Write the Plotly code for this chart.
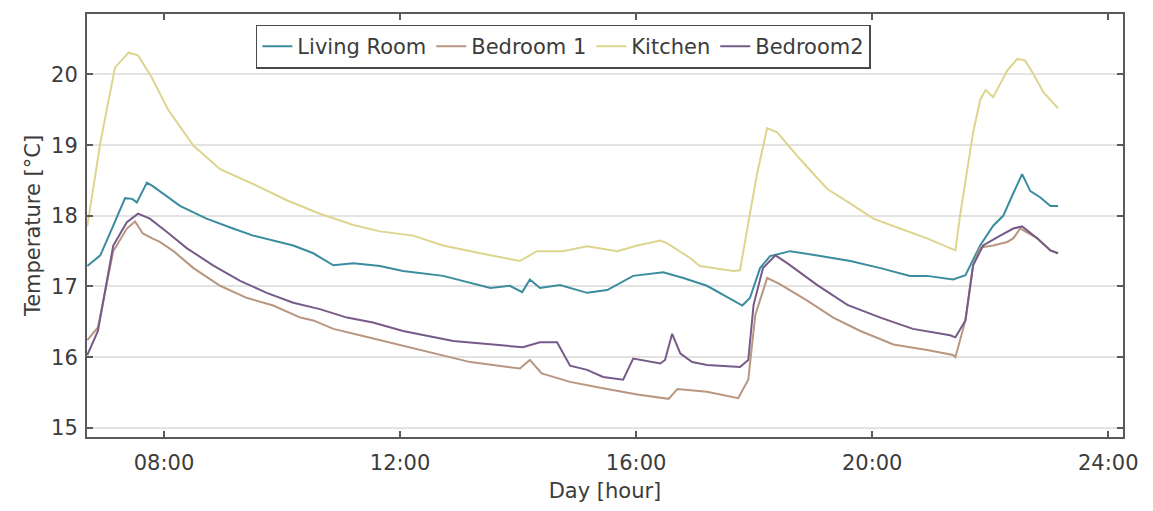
import plotly.graph_objects as go

# Hourly room temperature log (hours since midnight, degrees C)
living_hours = [6.70, 6.92, 7.14, 7.34, 7.46, 7.54, 7.71, 7.81, 8.27, 8.72, 9.17, 9.51, 10.19, 10.53,
                10.87, 11.21, 11.66, 12.05, 12.73, 13.53, 13.86, 14.07, 14.20, 14.37, 14.71, 15.17,
                15.51, 15.95, 16.46, 16.80, 17.20, 17.65, 17.80, 17.93, 18.10, 18.27, 18.61, 19.07,
                19.63, 20.14, 20.64, 20.93, 21.37, 21.58, 21.83, 22.05, 22.22, 22.37, 22.54, 22.68,
                22.85, 23.02, 23.15]
living_temp = [17.29, 17.44, 17.86, 18.25, 18.24, 18.19, 18.47, 18.42, 18.14, 17.96, 17.82, 17.72,
               17.58, 17.47, 17.30, 17.33, 17.29, 17.22, 17.15, 16.98, 17.01, 16.92, 17.10, 16.98,
               17.02, 16.91, 16.95, 17.15, 17.20, 17.12, 17.01, 16.80, 16.73, 16.84, 17.26, 17.43,
               17.50, 17.44, 17.36, 17.26, 17.15, 17.15, 17.10, 17.16, 17.58, 17.86, 18.00, 18.28,
               18.59, 18.35, 18.26, 18.14, 18.14]

bed1_hours = [6.70, 6.88, 7.14, 7.37, 7.51, 7.64, 7.80, 7.93, 8.16, 8.50, 8.95, 9.40, 9.85, 10.31,
              10.53, 10.87, 11.32, 11.66, 12.34, 13.19, 14.03, 14.20, 14.40, 14.88, 15.44, 16.02,
              16.55, 16.70, 17.20, 17.73, 17.90, 18.02, 18.22, 18.42, 18.90, 19.34, 19.80, 20.36,
              20.93, 21.37, 21.41, 21.58, 21.71, 21.83, 22.05, 22.29, 22.39, 22.51, 22.80, 23.02,
              23.15]
bed1_temp = [16.24, 16.42, 17.50, 17.82, 17.92, 17.75, 17.68, 17.63, 17.50, 17.26, 17.01, 16.84,
             16.73, 16.56, 16.52, 16.40, 16.31, 16.24, 16.10, 15.93, 15.84, 15.96, 15.77, 15.65,
             15.56, 15.47, 15.41, 15.55, 15.51, 15.42, 15.68, 16.60, 17.12, 17.04, 16.80, 16.56,
             16.37, 16.18, 16.10, 16.03, 16.00, 16.52, 17.30, 17.55, 17.58, 17.63, 17.68, 17.82,
             17.68, 17.51, 17.47]

kitchen_hours = [6.70, 6.92, 7.17, 7.40, 7.56, 7.79, 8.07, 8.50, 8.95, 9.51, 10.08, 10.64, 11.21,
                 11.66, 12.22, 12.73, 13.36, 14.03, 14.32, 14.76, 15.17, 15.68, 16.02, 16.41, 16.53,
                 16.92, 17.08, 17.65, 17.76, 17.93, 18.05, 18.22, 18.39, 18.78, 19.24, 19.58, 20.02,
                 20.47, 20.93, 21.41, 21.49, 21.71, 21.83, 21.92, 22.05, 22.29, 22.46, 22.59, 22.73,
                 22.90, 23.15]
kitchen_temp = [17.85, 19.03, 20.10, 20.31, 20.27, 19.96, 19.50, 18.99, 18.66, 18.45, 18.22, 18.03,
                17.87, 17.78, 17.72, 17.58, 17.47, 17.36, 17.50, 17.50, 17.57, 17.50, 17.58, 17.65,
                17.61, 17.40, 17.29, 17.22, 17.23, 18.01, 18.60, 19.24, 19.18, 18.80, 18.38, 18.20,
                17.96, 17.82, 17.68, 17.51, 18.01, 19.18, 19.64, 19.78, 19.68, 20.06, 20.22, 20.20,
                20.01, 19.75, 19.52]

bed2_hours = [6.70, 6.88, 7.14, 7.37, 7.56, 7.76, 8.05, 8.39, 8.83, 9.29, 9.74, 10.19, 10.64, 11.10,
              11.54, 12.05, 12.90, 13.64, 14.08, 14.37, 14.66, 14.88, 15.17, 15.44, 15.78, 15.95,
              16.41, 16.49, 16.61, 16.75, 16.95, 17.20, 17.76, 17.90, 17.99, 18.15, 18.36, 18.56,
              19.07, 19.58, 20.14, 20.69, 21.32, 21.41, 21.58, 21.71, 21.88, 22.17, 22.39, 22.54,
              22.80, 23.02, 23.15]
bed2_temp = [16.03, 16.37, 17.58, 17.91, 18.03, 17.96, 17.77, 17.54, 17.30, 17.08, 16.91, 16.77,
             16.68, 16.56, 16.49, 16.37, 16.23, 16.17, 16.14, 16.21, 16.21, 15.88, 15.82, 15.72,
             15.68, 15.98, 15.91, 15.96, 16.33, 16.05, 15.93, 15.89, 15.86, 15.96, 16.74, 17.26,
             17.44, 17.33, 17.02, 16.74, 16.56, 16.40, 16.31, 16.28, 16.52, 17.30, 17.58, 17.72,
             17.82, 17.85, 17.68, 17.51, 17.47]

hour_ticks = [8, 12, 16, 20, 24]
hour_labels = ["08:00", "12:00", "16:00", "20:00", "24:00"]
temp_ticks = [15, 16, 17, 18, 19, 20]

series = [
    ("Living Room", living_hours, living_temp, "#3a8c9e"),
    ("Bedroom 1", bed1_hours, bed1_temp, "#b8967f"),
    ("Kitchen", kitchen_hours, kitchen_temp, "#ddd58e"),
    ("Bedroom2", bed2_hours, bed2_temp, "#765a88"),
]

FONT = "DejaVu Sans"
TEXT = "#3c3c3c"
AXIS = "#5a5a5a"

fig = go.Figure()
for name, hrs, temps, color in series:
    fig.add_trace(go.Scatter(
        x=hrs, y=temps, name=name, mode="lines",
        line=dict(color=color, width=2),
    ))

fig.update_layout(
    width=1153, height=511,
    margin=dict(l=87, r=30, t=13, b=70),
    paper_bgcolor="white", plot_bgcolor="white",
    font=dict(family=FONT, size=21, color=TEXT),
    showlegend=True,
    legend=dict(
        orientation="h", x=0.163, y=0.975, xanchor="left", yanchor="top",
        bgcolor="white", bordercolor="#4a4a4a", borderwidth=1.5,
        font=dict(family=FONT, size=21, color=TEXT),
        itemwidth=30, tracegroupgap=0,
    ),
)

fig.update_xaxes(
    range=[6.695, 24.25], tickvals=hour_ticks, ticktext=hour_labels,
    showgrid=False, zeroline=False,
    showline=True, linecolor=AXIS, linewidth=2, mirror="ticks",
    ticks="inside", ticklen=6, tickcolor=AXIS, tickwidth=1.5,
    tickfont=dict(family=FONT, size=21, color=TEXT),
    ticklabelstandoff=6,
    title=dict(text="Day [hour]", font=dict(family=FONT, size=21, color=TEXT), standoff=9),
)
fig.update_yaxes(
    range=[14.87, 20.856], tickvals=temp_ticks,
    showgrid=True, gridcolor="#e3e3e3", gridwidth=1.5, zeroline=False,
    showline=True, linecolor=AXIS, linewidth=2, mirror="ticks",
    ticks="inside", ticklen=6, tickcolor=AXIS, tickwidth=1.5,
    tickfont=dict(family=FONT, size=21, color=TEXT),
    ticklabelstandoff=3,
    title=dict(text="Temperature [°C]", font=dict(family=FONT, size=21, color=TEXT), standoff=5),
)

fig.write_html("out.html")
